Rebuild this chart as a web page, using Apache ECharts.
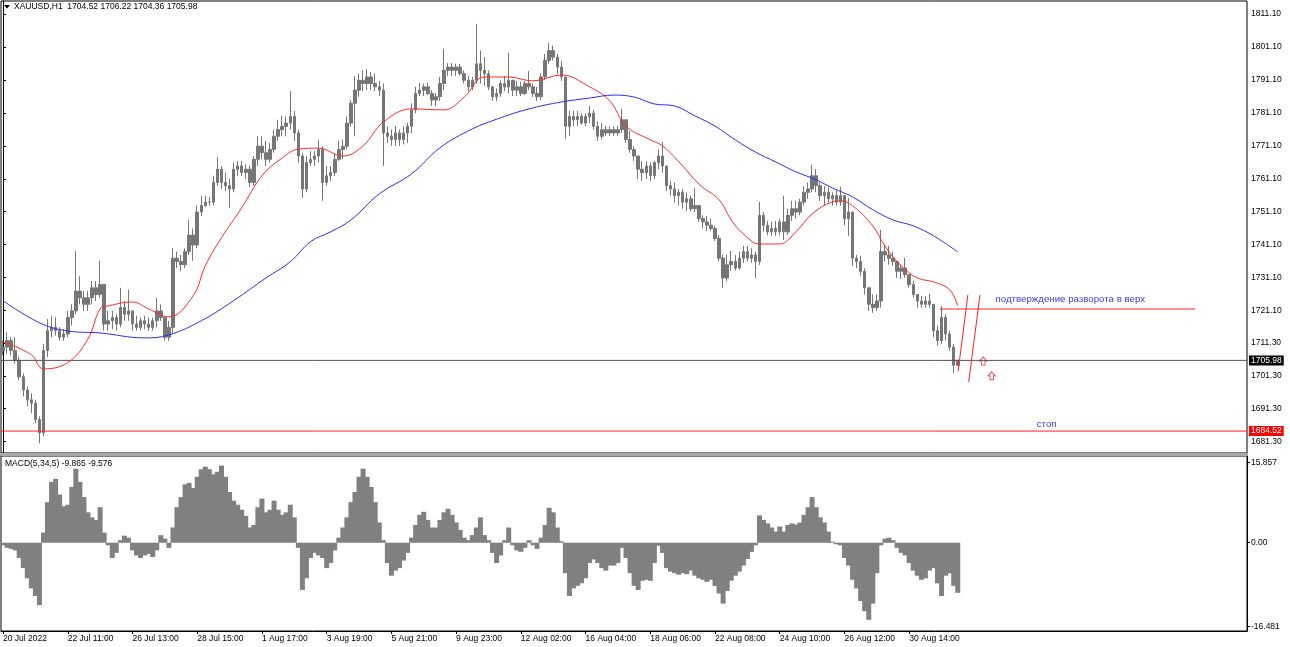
<!DOCTYPE html>
<html><head><meta charset="utf-8">
<script src="https://cdn.jsdelivr.net/npm/echarts@6/dist/echarts.min.js"></script>
<style>html,body{margin:0;padding:0;background:#fff}#c{width:1290px;height:647px}</style>
</head><body><div id="c"></div>
<script>
const tickLabels = ['20 Jul 2022','22 Jul 11:00','26 Jul 13:00','28 Jul 15:00','1 Aug 17:00','3 Aug 19:00','5 Aug 21:00','9 Aug 23:00','12 Aug 02:00','16 Aug 04:00','18 Aug 06:00','22 Aug 08:00','24 Aug 10:00','26 Aug 12:00','30 Aug 14:00'];
const priceTicks = [1811.10,1801.10,1791.10,1781.10,1771.10,1761.10,1751.10,1741.10,1731.10,1721.10,1711.30,1701.30,1691.30,1681.30];
const macdTicks = [15.857, 0, -16.481];

const opens = [1709,1710,1712,1709,1706,1701,1697,1694,1693,1688,
1684,1709,1715,1716,1715,1713,1714,1719,1721,1727,
1725,1723,1725,1728,1726,1729,1717,1718,1719,1717,
1722,1720,1721,1717,1716,1718,1717,1716,1718,1721,
1719,1713,1716,1737,1736,1735,1739,1744,1741,1751,
1753,1754,1754,1760,1764,1760,1759,1758,1764,1765,
1763,1764,1760,1767,1771,1769,1767,1770,1774,1776,
1777,1778,1780,1775,1768,1758,1766,1767,1768,1770,
1760,1762,1763,1767,1770,1771,1778,1784,1788,1791,
1790,1792,1790,1789,1788,1775,1774,1773,1775,1773,
1775,1777,1782,1787,1788,1789,1787,1785,1786,1790,
1794,1795,1794,1795,1793,1791,1789,1791,1796,1794,
1793,1789,1786,1787,1790,1789,1791,1788,1789,1787,
1790,1789,1787,1786,1792,1797,1800,1798,1795,1792,
1777,1780,1779,1780,1778,1780,1781,1777,1774,1776,
1775,1776,1775,1776,1779,1773,1770,1768,1764,1763,
1765,1762,1766,1768,1765,1759,1758,1756,1757,1754,
1755,1752,1753,1749,1748,1747,1746,1743,1737,1731,
1735,1736,1734,1737,1739,1737,1738,1736,1750,1747,
1745,1746,1745,1748,1745,1750,1752,1751,1754,1757,
1758,1762,1759,1756,1757,1755,1756,1754,1756,1749,
1751,1737,1736,1733,1728,1723,1722,1724,1739,1738,
1737,1736,1733,1734,1732,1729,1726,1724,1723,1724,
1723,1715,1712,1719,1714,1710,1704.52];
const closes = [1710,1712,1709,1706,1701,1697,1694,1693,1688,1684,
1709,1715,1716,1715,1713,1714,1719,1721,1727,1725,
1723,1725,1728,1726,1729,1717,1718,1719,1717,1722,
1720,1721,1717,1716,1718,1717,1716,1718,1721,1719,
1713,1716,1737,1736,1735,1739,1744,1741,1751,1753,
1754,1754,1760,1764,1760,1759,1758,1764,1765,1763,
1764,1760,1767,1771,1769,1767,1770,1774,1776,1777,
1778,1780,1775,1768,1758,1766,1767,1768,1770,1760,
1762,1763,1767,1770,1771,1778,1784,1788,1791,1790,
1792,1790,1789,1788,1775,1774,1773,1775,1773,1775,
1777,1782,1787,1788,1789,1787,1785,1786,1790,1794,
1795,1794,1795,1793,1791,1789,1791,1796,1794,1793,
1789,1786,1787,1790,1789,1791,1788,1789,1787,1790,
1789,1787,1786,1792,1797,1800,1798,1795,1792,1777,
1780,1779,1780,1778,1780,1781,1777,1774,1776,1775,
1776,1775,1776,1779,1773,1770,1768,1764,1763,1765,
1762,1766,1768,1765,1759,1758,1756,1757,1754,1755,
1752,1753,1749,1748,1747,1746,1743,1737,1731,1735,
1736,1734,1737,1739,1737,1738,1736,1750,1747,1745,
1746,1745,1748,1745,1750,1752,1751,1754,1757,1758,
1762,1759,1756,1757,1755,1756,1754,1756,1749,1751,
1737,1736,1733,1728,1723,1722,1724,1739,1738,1737,
1736,1733,1734,1732,1729,1726,1724,1723,1724,1723,
1715,1712,1719,1714,1710,1704.5,1705.98];
const highs = [1712,1714.5,1713,1713,1707,1702,1698,1696,1694,1689,
1711,1718.5,1719.5,1719,1716,1715.5,1721,1723,1739.2,1731.5,
1727,1727,1730,1730,1736.2,1729,1721,1721,1720,1728,
1724,1727.4,1721,1719.5,1719,1719.5,1719,1719,1725,1723,
1719,1718,1740.1,1739,1738,1740,1748.6,1746,1753,1755.9,
1756,1755.5,1762,1767.7,1765,1763,1761,1766,1766.5,1766.5,
1765.5,1765,1768,1774,1774,1772.6,1772,1776,1779,1780.2,
1780,1787.7,1781.7,1776,1769,1768,1769.5,1769.5,1772.9,1771,
1765,1765,1769,1772.6,1773,1780,1785,1792.3,1793,1794,
1794.4,1793.5,1793,1790.8,1790,1777,1776,1777.1,1776,1777,
1778,1784,1789,1790.2,1790,1790.2,1788,1787.1,1792,1800.5,
1796.2,1796.2,1796,1796,1794,1792.3,1792,1808.1,1800,1798,
1794,1789.3,1788.5,1791,1792.3,1799.3,1790.8,1790.8,1790.5,1790.8,
1793.8,1790,1789,1793,1799,1802.3,1801.5,1799,1796.8,1792,
1781.7,1781.7,1781.7,1781,1781,1783.2,1782,1778.6,1778,1777.1,
1777.1,1777,1777.1,1782.3,1779,1775.6,1771,1768,1766.5,1766.5,
1766,1766.5,1770,1772.3,1765,1760.4,1760,1758,1758,1757,
1756,1758.3,1753,1750,1749.8,1749,1746.8,1744,1738,1738,
1739.2,1738,1739,1740.7,1740.7,1740,1739,1754.1,1751,1748.3,
1748,1748.3,1749,1755.9,1752,1754.4,1754.4,1755,1758.9,1760,
1765.3,1764,1760,1758.9,1758.5,1757,1757.5,1758.6,1756,1755.3,
1751,1738,1737.7,1734,1728,1726,1726,1745.6,1741,1740.7,
1739,1736.2,1735,1737.1,1732,1730.1,1726,1725.6,1725.5,1726.2,
1723,1716.5,1722.5,1720,1715,1711,1706.22];
const lows = [1707.5,1708,1707.5,1705,1700,1695,1692,1690,1687,1680.8,
1683,1707,1713,1713.5,1712,1711.9,1713,1716.5,1720,1723,
1721,1721,1723,1724,1725,1715,1715,1715.5,1715,1716,
1718,1718,1715,1715,1715,1715.5,1715,1715,1716,1718,
1712,1711.9,1714,1734,1733,1734,1738,1736.2,1740,1749.8,
1752.5,1752.9,1753,1759,1758,1757.4,1752.3,1757,1762,1762,
1761,1758.6,1759,1765,1767,1765,1766,1769,1772.6,1774,
1774,1776,1772.6,1766,1755.3,1757,1765,1765,1766,1754.4,
1759,1760.4,1762,1766.5,1767,1770,1777,1774,1786,1787.7,
1788,1788,1787.7,1786.2,1765,1772,1771.1,1771,1771.1,1771.5,
1772,1775,1781,1786.2,1786.2,1786.5,1783.2,1783.2,1784.7,1788,
1792.3,1792.3,1792.3,1792.5,1790,1787.7,1788,1790,1790,1789.3,
1788,1784.7,1784.7,1786,1787.7,1787,1786.2,1786.2,1786.2,1786.5,
1788,1786,1784.7,1785,1791,1796,1797,1793,1790.8,1773.2,
1774,1777.1,1777.1,1777.5,1777.1,1778,1776,1772.6,1773,1774.1,
1774.1,1774.1,1774.1,1775,1772,1769,1766.5,1761,1760.4,1761,
1760.4,1761,1764,1763,1757.4,1756,1754,1753,1752,1751.3,
1751.3,1751,1748,1746,1745.3,1745.3,1742.2,1736,1728,1730,
1733.2,1733.2,1733.5,1735.6,1736,1735.6,1731,1735,1745,1744,
1743.8,1743.8,1744,1742.5,1744,1748.3,1749,1750,1753,1755,
1757,1757,1754.4,1753,1754,1752.9,1753,1752.9,1747,1743.8,
1734.7,1734,1731.6,1726,1721,1720.4,1721,1722,1736,1735,
1734.7,1731,1730.7,1731,1728,1725,1722,1721.9,1722,1722,
1713,1710.4,1711,1712,1708.9,1702.2,1704.36];

const macd = [-0.5,-1,-1.2,-1.5,-3,-5,-7,-9,-10.5,-12.3,
2,8,12,12.6,9.5,7.2,7.5,11,14.6,12,
9,6,5,4.5,7,2,-0.5,-3,-2,0.5,
1.4,1,-1.5,-2.5,-3,-2.5,-2.2,-2.8,-1.5,1.5,
0.8,-1,3,7,9,11.5,11.8,10.8,13,14.5,
15,14.5,13.5,14,15.2,13,10,8.3,7.5,6.5,
5.3,3,3.5,7,8.7,6,6.5,8.3,6.5,5.5,
6,7.5,5,-1,-9.3,-7,-3,-2,-2.5,-3,
-5,-4,-1.5,1,3,5,8,10,13,14.6,
13,11,8,4,0.5,-4,-6.5,-5.5,-5,-3.5,
-2,1,3.5,5.5,6.1,4.5,3,3,4.5,6,
6.7,5.5,4,2.5,1,0.5,1.5,3,5,1.5,
0.5,-2,-4,-2.5,0.5,3,-0.5,-1.5,-1.8,-1,
0.5,-0.5,-1.2,1,3.5,6.9,6,3,0.3,-6,
-10.5,-9,-8.5,-8,-7,-4,-3.3,-4,-5,-5.5,
-4.5,-4.5,-4,-1,-3,-6,-8.5,-9.3,-7.5,-7.3,
-7.5,-4,-0.6,-2,-5,-5.7,-6,-6.3,-6,-6.2,
-5.5,-6.5,-7,-7.3,-7.7,-7.3,-8.5,-10,-12,-9.5,
-7.5,-6.5,-5.7,-4.5,-3.2,-1.8,-0.5,5.4,4.5,3.8,
3,2.2,3.2,2.2,3.5,3.8,3.6,4,5.5,7,
9,7,5,4,2.2,0.2,-0.3,-0.5,-3,-4.5,
-7.3,-9,-11.5,-13.5,-15.2,-12,-6,-0.5,0.8,1,
0.5,-1,-2,-2.5,-4,-5.5,-6.5,-7.3,-7,-5.5,
-5,-8,-10.5,-6.5,-6,-8.5,-9.865];

// moving averages: bar index -> value
const redMaIdx = [0,7,10,16,21,24,26,32,36,41,47,50,54,59,64,69,73,78,84,89,94,101,109,114,119,125,131,138,145,150,154,160,163,168,172,177,180,183,187,192,196,200,205,207,210,215,218,222,226,230,234,236];
const redMaVal = [1711.6,1707.7,1703.4,1705.3,1712.5,1721.6,1722.5,1723.7,1721.6,1719.2,1725.6,1734.7,1743.2,1752.3,1762.0,1767.4,1770.1,1770.4,1768.0,1771.1,1778.3,1782.3,1782.0,1785.9,1792.0,1792.0,1790.8,1792.6,1789.0,1784.7,1777.1,1772.9,1771.1,1765.0,1759.5,1754.7,1748.6,1744.4,1741.3,1741.3,1745.0,1750.4,1754.1,1754.4,1752.9,1746.8,1740.7,1734.7,1731.0,1729.8,1727.4,1722.5];
const blueMaIdx = [0,9,16,24,35,41,49,57,65,71,76,81,86,93,101,108,116,123,130,138,145,151,156,161,166,171,176,181,186,191,196,201,205,210,215,220,225,230,236];
const blueMaVal = [1724.1,1717.4,1714.9,1714.3,1712.8,1713.7,1718.0,1724.1,1731.0,1735.9,1742.0,1745.0,1748.6,1756.5,1762.6,1770.5,1776.2,1779.6,1782.3,1784.4,1785.6,1786.5,1785.9,1783.8,1783.2,1780.2,1777.1,1772.9,1769.2,1766.2,1763.2,1760.8,1758.3,1755.6,1751.7,1748.6,1746.8,1743.8,1738.9];

// drawn objects: [bar index, price]
const bidPrice = 1705.98;
const stopPrice = 1684.52;
const confirmLine = [[231.6,1721.57],[294.7,1721.57]];
const trendA = [[236.1,1702.75],[238.5,1725.8]];
const trendB = [[238.7,1699.4],[241.5,1725.8]];
const arrows = [[242.3,1705.8],[244.4,1701.3]];
const notes = [{name:'подтверждение разворота в верх', value:[245.2,1724.6]},{name:'стоп', value:[255.4,1686.7]}];

const NCAT = 308;
const cats = Array.from({length:NCAT},(_, i)=>String(i));
const FF = 'Liberation Sans, Arial, sans-serif';
const showIdx = (i)=> i % 16 === 0 && (i/16) < tickLabels.length;

const candles = opens.map((o,i)=>[o, closes[i], lows[i], highs[i]]);
const GRAY = '#767676';
const RED = '#ff2020';

function priceLine(price, lineColor, boxColor){
  return {type:'line', xAxisIndex:1, yAxisIndex:0, data:[[-0.5, price],[NCAT-0.5, price]], clip:false,
    showSymbol:false, silent:true, z:3,
    lineStyle:{color:lineColor, width:1, type:'solid'},
    endLabel:{show:true, distance:2, fontSize:8.5, fontFamily:FF, color:'#fff', padding:[1,2,0,2], backgroundColor:boxColor, formatter:()=>price.toFixed(2)}};
}

const chart = echarts.init(document.getElementById('c'));
chart.setOption({
  animation:false,
  backgroundColor:'#fff',
  textStyle:{fontFamily:FF},
  grid:[
    {left:1, top:1, width:1246, height:452, show:true, borderColor:'#000', borderWidth:1},
    {left:1, top:456, width:1246, height:175, show:true, borderColor:'#000', borderWidth:1}
  ],
  xAxis:[
    {type:'category', gridIndex:0, data:cats, show:false},
    {type:'value', gridIndex:0, min:-0.5, max:NCAT-0.5, show:false},
    {type:'category', gridIndex:1, data:cats, position:'bottom',
      axisLine:{show:true, onZero:false, lineStyle:{color:'#000'}},
      axisTick:{show:true, alignWithLabel:true, interval:showIdx, length:3, lineStyle:{color:'#000'}},
      axisLabel:{interval:showIdx, formatter:(v,i)=>tickLabels[i/16]||'', align:'left', margin:3, fontSize:8.5, color:'#000', fontFamily:FF}}
  ],
  yAxis:[
    {type:'value', gridIndex:0, position:'right', min:1677.87, max:1815.05, splitLine:{show:false},
      axisLine:{show:true, lineStyle:{color:'#000'}},
      axisTick:{show:true, length:3, customValues:priceTicks, lineStyle:{color:'#000'}},
      axisLabel:{customValues:priceTicks, formatter:v=>v.toFixed(2), margin:4, fontSize:8.5, color:'#000', fontFamily:FF}},
    {type:'value', gridIndex:1, position:'right', min:-17.4, max:17.1, splitLine:{show:false},
      axisLine:{show:true, lineStyle:{color:'#000'}},
      axisTick:{show:true, length:3, customValues:macdTicks, lineStyle:{color:'#000'}},
      axisLabel:{customValues:macdTicks, formatter:v=> v===0 ? '0.00' : v.toFixed(3), margin:4, fontSize:8.5, color:'#000', fontFamily:FF}}
  ],
  series:[
    {type:'candlestick', xAxisIndex:0, yAxisIndex:0, data:candles, barWidth:3,
      itemStyle:{color:GRAY, color0:GRAY, borderColor:GRAY, borderColor0:GRAY, borderWidth:1}},
    priceLine(bidPrice, '#505050', '#000'),
    priceLine(stopPrice, RED, '#ff0000'),
    {type:'line', xAxisIndex:1, yAxisIndex:0, data:redMaIdx.map((x,k)=>[x, redMaVal[k]]), smooth:0.4, showSymbol:false, lineStyle:{color:'#ff2a2a', width:1}},
    {type:'line', xAxisIndex:1, yAxisIndex:0, data:blueMaIdx.map((x,k)=>[x, blueMaVal[k]]), smooth:0.4, showSymbol:false, lineStyle:{color:'#2a2aff', width:1}},
    {type:'line', xAxisIndex:1, yAxisIndex:0, data:confirmLine, showSymbol:false, lineStyle:{color:RED, width:1}},
    {type:'line', xAxisIndex:1, yAxisIndex:0, data:trendA, showSymbol:false, lineStyle:{color:RED, width:1}},
    {type:'line', xAxisIndex:1, yAxisIndex:0, data:trendB, showSymbol:false, lineStyle:{color:RED, width:1}},
    {type:'scatter', xAxisIndex:1, yAxisIndex:0, data:arrows, symbol:'path://M4,0 L8,4 L6,4 L6,8 L2,8 L2,4 L0,4 Z', symbolSize:[7,8],
      itemStyle:{color:'rgba(255,255,255,0)', borderColor:RED, borderWidth:1}},
    {type:'scatter', xAxisIndex:1, yAxisIndex:0, data:notes, symbolSize:1, itemStyle:{color:'rgba(0,0,0,0)'},
      label:{show:true, position:'right', distance:0, formatter:p=>p.name, color:'#0000ff', fontSize:9.7, fontFamily:FF}},
    {type:'bar', xAxisIndex:2, yAxisIndex:1, data:macd, barWidth:5, itemStyle:{color:'#808080'}}
  ],
  graphic:[
    {type:'rect', shape:{x:0, y:453, width:1248, height:3}, style:{fill:'#a8a8a8'}, z:100},
    {type:'polygon', shape:{points:[[4,5],[10,5],[7,8.5]]}, style:{fill:'#000'}},
    {type:'text', x:14, y:2.5, style:{text:'XAUUSD,H1  1704.52 1706.22 1704.36 1705.98', fontSize:8.5, fontFamily:FF, fill:'#000'}},
    {type:'text', x:5, y:459, style:{text:'MACD(5,34,5) -9.865 -9.576', fontSize:8.5, fontFamily:FF, fill:'#000'}}
  ]
});
</script></body></html>
